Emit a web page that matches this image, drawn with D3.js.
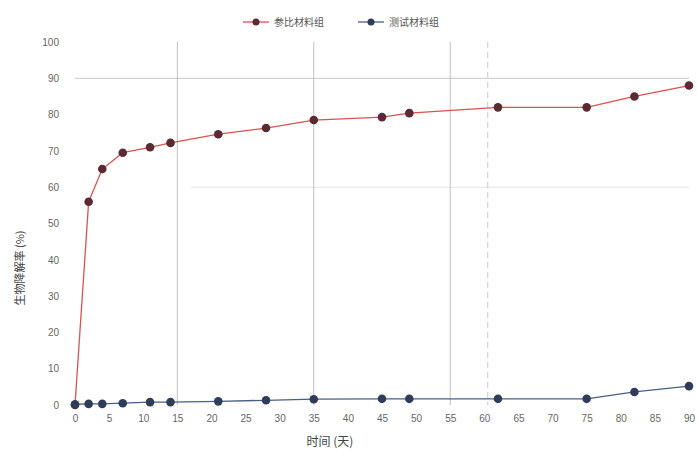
<!DOCTYPE html>
<html><head><meta charset="utf-8">
<script src="https://cdn.jsdelivr.net/npm/d3@7"></script>
<style>body{margin:0;background:#fff;}svg{display:block;font-family:"Noto Sans CJK SC","Noto Sans",sans-serif;}</style>
</head><body>
<script>
const days = [0, 2, 4, 7, 11, 14, 21, 28, 35, 45, 49, 62, 75, 82, 90];
const refSeries = [0, 56, 65, 69.5, 71, 72.2, 74.6, 76.3, 78.5, 79.3, 80.4, 82, 82, 85, 88];
const testSeries = [0.2, 0.3, 0.3, 0.5, 0.8, 0.8, 1, 1.3, 1.6, 1.7, 1.7, 1.7, 1.7, 3.6, 5.2];
const seriesNames = ["参比材料组", "测试材料组"];
const xTicks = d3.range(0, 95, 5);
const yTicks = d3.range(0, 110, 10);
const xTitle = "时间 (天)";
const yTitle = "生物降解率 (%)";

const W = 698, H = 457;
const svg = d3.select("body").append("svg").attr("width", W).attr("height", H);
const x = d3.scaleLinear().domain([0, 90]).range([75, 689]);
const y = d3.scaleLinear().domain([0, 100]).range([405, 42]);

// visible gridlines
const g = svg.append("g");
g.append("line").attr("x1", x(0)).attr("x2", x(90)).attr("y1", y(90)).attr("y2", y(90)).attr("stroke", "#c8c8c8");
g.append("line").attr("x1", x(17)).attr("x2", x(90)).attr("y1", y(60)).attr("y2", y(60)).attr("stroke", "#e4e4e4");
[15, 35, 55].forEach(v => g.append("line").attr("x1", x(v)).attr("x2", x(v)).attr("y1", y(100)).attr("y2", y(0)).attr("stroke", "#c0c0c0"));
g.append("line").attr("x1", x(60.5)).attr("x2", x(60.5)).attr("y1", y(100)).attr("y2", y(0)).attr("stroke", "#c8c8c8").attr("stroke-dasharray", "6,4");

// axes
const xAxis = svg.append("g").attr("transform", `translate(0,${y(0) + 6})`)
  .call(d3.axisBottom(x).tickValues(xTicks).tickSize(0).tickPadding(4));
xAxis.select(".domain").remove();
xAxis.selectAll("text").attr("fill", "#666").attr("font-size", 10);
const yAxis = svg.append("g").attr("transform", `translate(${x(0) - 12},0)`)
  .call(d3.axisLeft(y).tickValues(yTicks).tickSize(0).tickPadding(4));
yAxis.select(".domain").remove();
yAxis.selectAll("text").attr("fill", "#666").attr("font-size", 10);

svg.append("text").attr("x", 330).attr("y", 446).attr("text-anchor", "middle")
  .attr("font-size", 12).attr("fill", "#444").text(xTitle);
svg.append("text").attr("transform", "translate(24,268) rotate(-90)").attr("text-anchor", "middle")
  .attr("font-size", 11).attr("fill", "#444").text(yTitle);

const line = d3.line().x(d => x(d[0])).y(d => y(d[1]));
const sets = [
  {vals: refSeries, line: "#d9534f", mark: "#5c2a32"},
  {vals: testSeries, line: "#4a5f85", mark: "#2f3d5a"}
];
sets.forEach(s => {
  const pts = days.map((d, i) => [d, s.vals[i]]);
  svg.append("path").attr("d", line(pts)).attr("fill", "none").attr("stroke", s.line).attr("stroke-width", 1.3);
  svg.append("g").selectAll("circle").data(pts).join("circle")
    .attr("cx", d => x(d[0])).attr("cy", d => y(d[1])).attr("r", 4.3).attr("fill", s.mark);
});

// legend
const leg = svg.append("g");
[[243, 0], [358, 1]].forEach(([lx, i]) => {
  leg.append("line").attr("x1", lx).attr("x2", lx + 26).attr("y1", 22).attr("y2", 22).attr("stroke", sets[i].line).attr("stroke-width", 1.3);
  leg.append("circle").attr("cx", lx + 13).attr("cy", 22).attr("r", 3.5).attr("fill", sets[i].mark);
  leg.append("text").attr("x", lx + 31).attr("y", 26).attr("font-size", 10).attr("fill", "#555").text(seriesNames[i]);
});
</script>
</body></html>
